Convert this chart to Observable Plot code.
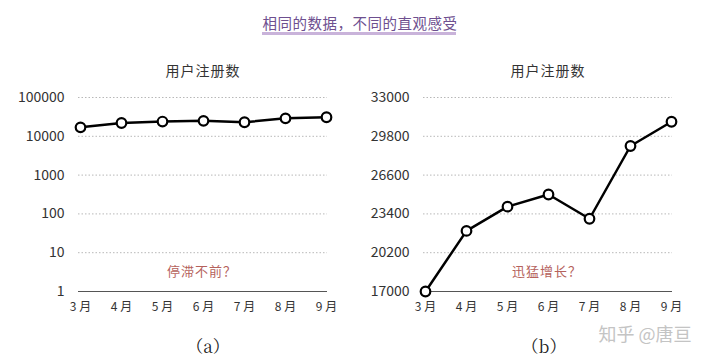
<!DOCTYPE html>
<html>
<head>
<meta charset="utf-8">
<script src="https://cdn.jsdelivr.net/npm/d3@7"></script>
<script src="https://cdn.jsdelivr.net/npm/@observablehq/plot@0.6"></script>
<style>
  html, body { margin: 0; padding: 0; background: #fff; }
  #wrap { position: relative; width: 720px; height: 362px; overflow: hidden;
          font-family: "Noto Sans CJK SC", "Noto Sans", sans-serif; }
  .abs { position: absolute; white-space: nowrap; transform: translate(-50%, -50%); }
  #title { left: 360px; top: 22px; font-size: 14.5px; color: #6e4f8f; letter-spacing: 0.5px; }
  #uline { position: absolute; left: 262px; top: 32px; width: 194px; height: 2.5px; background: #c9b3da; }
  .sub { top: 70px; font-size: 14px; color: #333; letter-spacing: 1px; }
  .note { top: 270px; font-size: 13px; color: #b5625c; letter-spacing: 1px; }
  .cap { top: 345px; font-size: 17px; color: #222; font-family: "Noto Serif CJK SC", "DejaVu Serif", "Liberation Serif", serif; }
  #wm { left: 645px; top: 333px; font-size: 18px; color: #c4c4c4; }
  .chart { position: absolute; top: 0; }
</style>
</head>
<body>
<div id="wrap">
  <div id="title" class="abs">相同的数据，不同的直观感受</div>
  <div id="uline"></div>
  <div class="abs sub" style="left:203px">用户注册数</div>
  <div class="abs sub" style="left:548px">用户注册数</div>
  <div id="left" class="chart" style="left:0"></div>
  <div id="right" class="chart" style="left:360px"></div>
  <div class="abs note" style="left:202px">停滞不前？</div>
  <div class="abs note" style="left:547px">迅猛增长？</div>
  <div class="abs cap" style="left:208px">（a）</div>
  <div class="abs cap" style="left:544px">（b）</div>
  <div id="wm" class="abs">知乎 @唐亘</div>
</div>
<script>
const months = ["3月", "4月", "5月", "6月", "7月", "8月", "9月"];
const users = [17000, 22000, 24000, 25000, 23000, 29000, 31000];
const logTicks = [1, 10, 100, 1000, 10000, 100000];
const linTicks = [17000, 20200, 23400, 26600, 29800, 33000];

const data = months.map((m, i) => ({month: m, value: users[i]}));

function chart(yOpts, ticks, base, ml, mr) {
  return Plot.plot({
    width: 360,
    height: 362,
    marginTop: 97,
    marginBottom: 71,
    marginLeft: ml,
    marginRight: mr,
    style: {fontFamily: "'Noto Sans CJK SC', 'Noto Sans', sans-serif", background: "transparent", overflow: "visible"},
    x: {type: "point", domain: months, padding: 0},
    y: yOpts,
    marks: [
      Plot.gridY(ticks, {stroke: "#b8b8b8", strokeOpacity: 1, strokeDasharray: "1.5,2"}),
      Plot.ruleY([base], {stroke: "#555", strokeWidth: 1.2}),
      Plot.axisY(ticks, {tickSize: 0, tickPadding: 14, fontSize: 14, fill: "#333", tickFormat: d => String(d), label: null}),
      Plot.axisX(months, {tickSize: 0, tickPadding: 11, fontSize: 12, fill: "#333", label: null, tickFormat: d => d.replace("月", " 月")}),
      Plot.line(data, {x: "month", y: "value", stroke: "#000", strokeWidth: 2.5}),
      Plot.dot(data, {x: "month", y: "value", r: 4.8, fill: "#fff", stroke: "#000", strokeWidth: 2.2})
    ]
  });
}

document.getElementById("left").appendChild(
  chart({type: "log", domain: [1, 100000]}, logTicks, 1, 78, 33));
document.getElementById("right").appendChild(
  chart({type: "linear", domain: [17000, 33000]}, linTicks, 17000, 63, 48));
</script>
</body>
</html>
